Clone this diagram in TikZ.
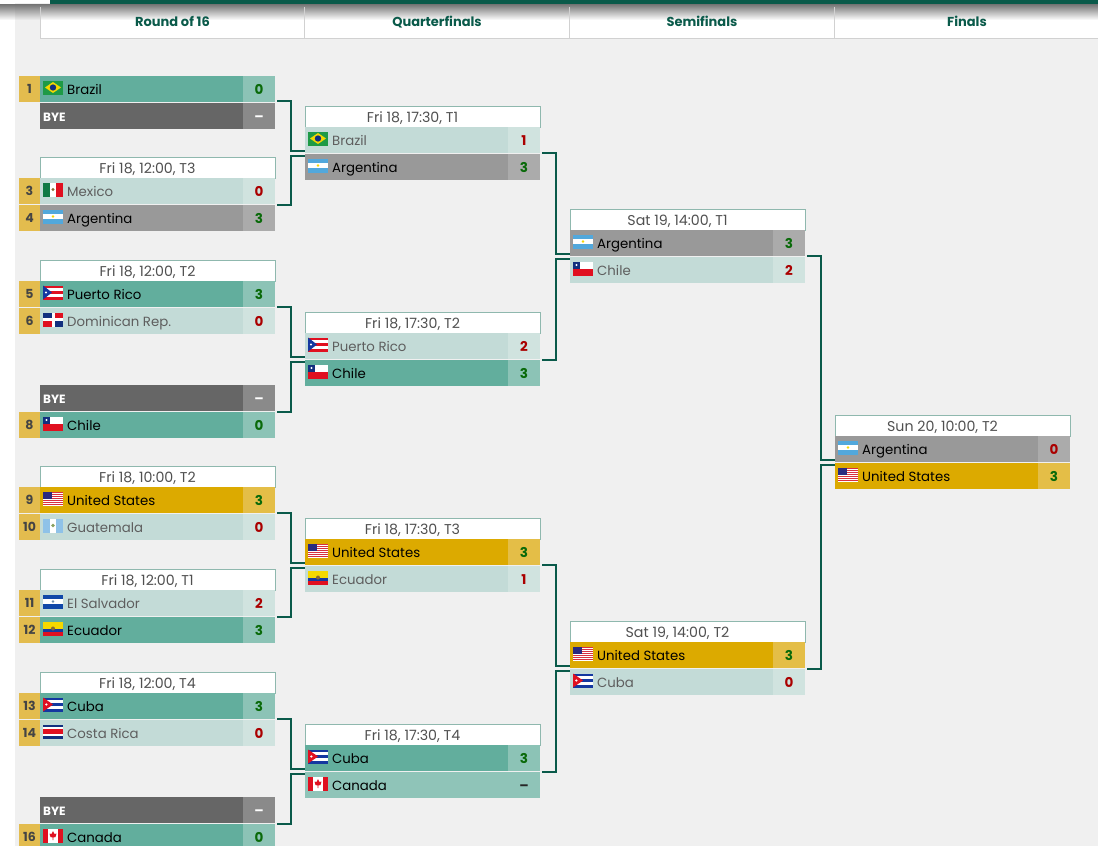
\documentclass[tikz,border=0pt]{standalone}
\usepackage{fontspec}
\setmainfont{Poppins}
\definecolor{pagebg}{HTML}{F0F0F0}
\definecolor{deep}{HTML}{0A5A4A}
\definecolor{seedgold}{HTML}{E3BC4E}
\definecolor{cwin}{HTML}{62AE9D}\definecolor{close}{HTML}{C3DBD7}\definecolor{cgray}{HTML}{999999}
\definecolor{cgold}{HTML}{DCAA00}\definecolor{cbye}{HTML}{666666}\definecolor{cpale}{HTML}{8FC4B8}
\definecolor{swin}{HTML}{8CC3B6}\definecolor{slose}{HTML}{D0E3DF}\definecolor{sgray}{HTML}{ABABAB}
\definecolor{sgold}{HTML}{E4BE47}\definecolor{sbye}{HTML}{8A8A8A}
\definecolor{tgray}{HTML}{5E5E5E}\definecolor{tseed}{HTML}{444444}\definecolor{thead}{HTML}{505050}
\definecolor{hedge}{HTML}{8FB8AE}
\definecolor{okgreen}{HTML}{0A6A0A}\definecolor{badred}{HTML}{AA0000}
\definecolor{fgreen}{HTML}{1E9A46}\definecolor{fyellow}{HTML}{F5D800}\definecolor{fnavy}{HTML}{12307F}
\definecolor{fsky}{HTML}{52A8DC}\definecolor{fmxg}{HTML}{0F7A45}\definecolor{fred}{HTML}{E01020}
\definecolor{fbrown}{HTML}{8A6A30}\definecolor{fblue}{HTML}{1438A0}\definecolor{fus}{HTML}{2A2A80}
\definecolor{fusr}{HTML}{D83040}\definecolor{fgt}{HTML}{8FC2E8}\definecolor{fgte}{HTML}{88A060}
\definecolor{fsv}{HTML}{1048A8}\definecolor{fsve}{HTML}{7090B0}
\tikzset{
  x=1pt,y=-1pt,
  cell/.style={draw=none,rectangle,inner sep=0pt,outer sep=0pt,anchor=north west,minimum height=26pt},
  rowwin/.style={cell,fill=cwin},
  rowlose/.style={cell,fill=close},
  rowgray/.style={cell,fill=cgray},
  rowgold/.style={cell,fill=cgold},
  rowbye/.style={cell,fill=cbye},
  rowpale/.style={cell,fill=cpale},
  scorewin/.style={cell,fill=swin},
  scorelose/.style={cell,fill=slose},
  scoregray/.style={cell,fill=sgray},
  scoregold/.style={cell,fill=sgold},
  scorebye/.style={cell,fill=sbye},
  scorepale/.style={cell,fill=cpale},
  textwin/.style={text=black},
  textlose/.style={text=tgray},
  textgray/.style={text=black},
  textgold/.style={text=black},
  textpale/.style={text=black},
  textbye/.style={text=white,font=\fontsize{12}{14}\selectfont\bfseries},
  teamname/.style={inner sep=0pt,anchor=base west,font=\fontsize{13.3}{15}\selectfont},
  scoretext/.style={inner sep=0pt,anchor=base,font=\fontsize{13.5}{15}\selectfont\bfseries},
  seedbox/.style={cell,fill=seedgold,minimum width=21pt,text=tseed,font=\fontsize{12.5}{14}\selectfont\bfseries},
  headbox/.style={rectangle,inner sep=0pt,outer sep=0pt,anchor=north west,fill=white,draw=hedge,line width=.8pt,minimum width=235pt,minimum height=21pt},
  headtext/.style={inner sep=0pt,anchor=base,text=thead,font=\fontsize{14.2}{15}\selectfont},
  roundtitle/.style={inner sep=0pt,anchor=base,text=deep,font=\fontsize{13}{15}\selectfont\bfseries},
  link/.style={draw=deep,line width=1.8pt},
}
\newcommand{\W}[1]{\textcolor{okgreen}{#1}}
\newcommand{\Lo}[1]{\textcolor{badred}{#1}}
\newcommand{\Dash}{\textcolor{white}{–}}
% flags in local 20x14 box
\newcommand{\fband}[3]{\fill[#1] (0,#2) rectangle (20,#3);}
\newcommand{\flagbr}{\fband{fgreen}{0}{14}\fill[fyellow] (2,7)--(10,1.5)--(18,7)--(10,12.5)--cycle;\fill[fnavy] (10,7) circle (3.2);}
\newcommand{\flagar}{\fband{fsky}{0}{14}\fband{white}{4.7}{9.3}\fill[fyellow] (10,7) circle (1.4);}
\newcommand{\flagmx}{\fill[fmxg] (0,0) rectangle (6.7,14);\fill[white] (6.7,0) rectangle (13.3,14);\fill[fred] (13.3,0) rectangle (20,14);\fill[fbrown] (10,7) circle (1.6);}
\newcommand{\flagpr}{\fband{fred}{0}{14}\fband{white}{2.8}{5.6}\fband{white}{8.4}{11.2}\fill[fblue] (0,0)--(9,7)--(0,14)--cycle;\fill[white] (3,7) circle (1.1);}
\newcommand{\flagdo}{\fill[white] (0,0) rectangle (20,14);\fill[fnavy] (0,0) rectangle (8.5,5.5);\fill[fred] (11.5,0) rectangle (20,5.5);\fill[fred] (0,8.5) rectangle (8.5,14);\fill[fnavy] (11.5,8.5) rectangle (20,14);}
\newcommand{\flagcl}{\fband{white}{0}{7}\fband{fred}{7}{14}\fill[fnavy] (0,0) rectangle (7,7);\fill[white] (3.5,3.5) circle (1.2);}
\newcommand{\flagus}{\fband{white}{0}{14}\foreach \s in {0,2,...,12}{\fill[fusr] (0,\s) rectangle (20,\s+1.05);}\fill[fus] (0,0) rectangle (9,7.5);}
\newcommand{\flaggt}{\fill[fgt] (0,0) rectangle (20,14);\fill[white] (6.7,0) rectangle (13.3,14);\fill[fgte] (10,7) circle (1.8);}
\newcommand{\flagsv}{\fband{fsv}{0}{14}\fband{white}{4.7}{9.3}\fill[fsve] (10,7) circle (1.4);}
\newcommand{\flagec}{\fband{fyellow}{0}{7}\fband{fblue}{7}{10.5}\fband{fred}{10.5}{14}\fill[fbrown] (10,7) circle (2);}
\newcommand{\flagcu}{\fband{fblue}{0}{14}\fband{white}{2.8}{5.6}\fband{white}{8.4}{11.2}\fill[fred] (0,0)--(10,7)--(0,14)--cycle;\fill[white] (3.4,7) circle (1.2);}
\newcommand{\flagcr}{\fband{fnavy}{0}{14}\fband{white}{2.2}{11.8}\fband{fred}{4.7}{9.3}}
\newcommand{\flagca}{\fill[white] (0,0) rectangle (20,14);\fill[fred] (0,0) rectangle (5,14);\fill[fred] (15,0) rectangle (20,14);\fill[fred] (10,2.5)--(11.5,5.5)--(13.5,5)--(12.5,8.5)--(10.4,9)--(10.4,11.5)--(9.6,11.5)--(9.6,9)--(7.5,8.5)--(6.5,5)--(8.5,5.5)--cycle;}
% \gamehead{id}{x}{top}{text}
\newcommand{\gamehead}[4]{%
  \node[headbox] (#1) at (#2,#3) {};
  \node[headtext] (#1-t) at (#2+107.5,#3+16) {#4};
}
% \teamrow{id}{x}{top}{seed}{flag}{name}{kind}{score}
\newcommand{\teamrow}[8]{%
  \node[row#7,minimum width=203pt] (#1-row) at (#2,#3) {};
  \node[score#7,minimum width=32pt] (#1-score) at (#2+203,#3) {};
  \node[scoretext] (#1-num) at (#2+219,#3+18) {#8};
  \begin{scope}[shift={(#2+3,#3+4.5)}]#5\end{scope}
  \node[teamname,text#7] (#1-name) at (#2+27,#3+18) {#6};
  \if\relax\detokenize{#4}\relax\else\node[seedbox] (#1-seed) at (#2-21,#3) {#4};\fi
}
\newcommand{\byerow}[3]{%
  \node[rowbye,minimum width=203pt] (#1-row) at (#2,#3) {};
  \node[scorebye,minimum width=32pt] (#1-score) at (#2+203,#3) {};
  \node[scoretext] (#1-num) at (#2+219,#3+18) {\Dash};
  \node[teamname,textbye] (#1-name) at (#2+3,#3+18) {BYE};
}
% \ports{id}{x}{top of first row}{offset of the outgoing line}
\newcommand{\ports}[4]{%
  \coordinate (#1-out) at (#2+237,#3+#4);
  \coordinate (#1-inA) at (#2,#3+24);
  \coordinate (#1-inB) at (#2,#3+29);
}
\begin{document}
\begin{tikzpicture}
\useasboundingbox (0,0) rectangle (1098,846);
\fill[pagebg] (0,0) rectangle (1098,846);
\fill[white] (0,0) rectangle (15,846);
% round titles
\fill[white] (40,7) rectangle (1098,38);
\shade[top color=black!55,bottom color=white] (40,4) rectangle (1098,20);
\shade[top color=black!55,bottom color=pagebg] (15,4) rectangle (40,20);
\shade[top color=black!55,bottom color=white] (0,4) rectangle (15,20);
\fill[deep] (50,0) rectangle (1098,3.5);
\fill[white] (0,0) rectangle (50,3);
\draw[draw=black!18,line width=.8pt] (1098,38)--(40,38)--(40,7) (304.5,7)--(304.5,38) (569.5,7)--(569.5,38) (834.5,7)--(834.5,38);
\node[roundtitle] (r1t) at (172.5,26.5) {Round of 16};
\node[roundtitle] (r2t) at (437,26.5) {Quarterfinals};
\node[roundtitle] (r3t) at (702,26.5) {Semifinals};
\node[roundtitle] (r4t) at (967,26.5) {Finals};
% Round of 16
\teamrow{a1}{40}{76}{1}{\flagbr}{Brazil}{win}{\W{0}}
\byerow{a2}{40}{103}
\ports{a}{40}{76}{25}
\gamehead{bh}{40}{157}{Fri 18, 12:00, T3}
\teamrow{b1}{40}{178}{3}{\flagmx}{Mexico}{lose}{\Lo{0}}
\teamrow{b2}{40}{205}{4}{\flagar}{Argentina}{gray}{\W{3}}
\ports{b}{40}{178}{27}
\gamehead{ch}{40}{260}{Fri 18, 12:00, T2}
\teamrow{c1}{40}{281}{5}{\flagpr}{Puerto Rico}{win}{\W{3}}
\teamrow{c2}{40}{308}{6}{\flagdo}{Dominican Rep.}{lose}{\Lo{0}}
\ports{c}{40}{281}{26}
\byerow{d1}{40}{385}
\teamrow{d2}{40}{412}{8}{\flagcl}{Chile}{win}{\W{0}}
\ports{d}{40}{385}{27}
\gamehead{eh}{40}{466}{Fri 18, 10:00, T2}
\teamrow{e1}{40}{487}{9}{\flagus}{United States}{gold}{\W{3}}
\teamrow{e2}{40}{514}{10}{\flaggt}{Guatemala}{lose}{\Lo{0}}
\ports{e}{40}{487}{26}
\gamehead{fh}{40}{569}{Fri 18, 12:00, T1}
\teamrow{f1}{40}{590}{11}{\flagsv}{El Salvador}{lose}{\Lo{2}}
\teamrow{f2}{40}{617}{12}{\flagec}{Ecuador}{win}{\W{3}}
\ports{f}{40}{590}{27}
\gamehead{gh}{40}{672}{Fri 18, 12:00, T4}
\teamrow{g1}{40}{693}{13}{\flagcu}{Cuba}{win}{\W{3}}
\teamrow{g2}{40}{720}{14}{\flagcr}{Costa Rica}{lose}{\Lo{0}}
\ports{g}{40}{693}{26}
\byerow{h1}{40}{797}
\teamrow{h2}{40}{824}{16}{\flagca}{Canada}{win}{\W{0}}
\ports{h}{40}{797}{27}
% Quarterfinals
\gamehead{ih}{305}{106}{Fri 18, 17:30, T1}
\teamrow{i1}{305}{127}{}{\flagbr}{Brazil}{lose}{\Lo{1}}
\teamrow{i2}{305}{154}{}{\flagar}{Argentina}{gray}{\W{3}}
\ports{i}{305}{127}{26}
\gamehead{jh}{305}{312}{Fri 18, 17:30, T2}
\teamrow{j1}{305}{333}{}{\flagpr}{Puerto Rico}{lose}{\Lo{2}}
\teamrow{j2}{305}{360}{}{\flagcl}{Chile}{win}{\W{3}}
\ports{j}{305}{333}{27}
\gamehead{kh}{305}{518}{Fri 18, 17:30, T3}
\teamrow{k1}{305}{539}{}{\flagus}{United States}{gold}{\W{3}}
\teamrow{k2}{305}{566}{}{\flagec}{Ecuador}{lose}{\Lo{1}}
\ports{k}{305}{539}{26}
\gamehead{lh}{305}{724}{Fri 18, 17:30, T4}
\teamrow{l1}{305}{745}{}{\flagcu}{Cuba}{win}{\W{3}}
\teamrow{l2}{305}{772}{}{\flagca}{Canada}{pale}{\textcolor{black!85}{–}}
\ports{l}{305}{745}{27}
% Semifinals
\gamehead{mh}{570}{209}{Sat 19, 14:00, T1}
\teamrow{m1}{570}{230}{}{\flagar}{Argentina}{gray}{\W{3}}
\teamrow{m2}{570}{257}{}{\flagcl}{Chile}{lose}{\Lo{2}}
\ports{m}{570}{230}{26}
\gamehead{nh}{570}{621}{Sat 19, 14:00, T2}
\teamrow{n1}{570}{642}{}{\flagus}{United States}{gold}{\W{3}}
\teamrow{n2}{570}{669}{}{\flagcu}{Cuba}{lose}{\Lo{0}}
\ports{n}{570}{642}{27}
% Final
\gamehead{oh}{835}{415}{Sun 20, 10:00, T2}
\teamrow{o1}{835}{436}{}{\flagar}{Argentina}{gray}{\Lo{0}}
\teamrow{o2}{835}{463}{}{\flagus}{United States}{gold}{\W{3}}
\ports{o}{835}{436}{26}
% connectors
\foreach \up/\lo/\nx in {a/b/i,c/d/j,e/f/k,g/h/l,i/j/m,k/l/n,m/n/o}{
  \draw[link] (\up-out) -- ++(14,0) |- (\nx-inA);
  \draw[link] (\lo-out) -- ++(14,0) |- (\nx-inB);
}
\end{tikzpicture}
\end{document}
